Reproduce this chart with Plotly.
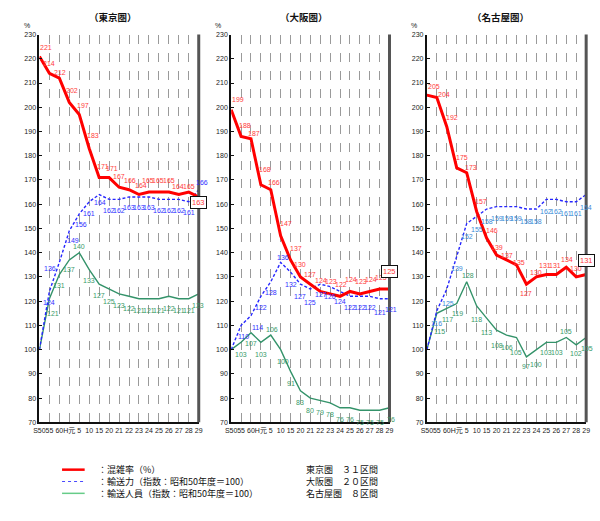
import plotly.graph_objects as go

# ---------------- data ----------------
categories = ["S50", "55", "60", "H元", "5", "10", "15", "20", "21", "22",
              "23", "24", "25", "26", "27", "28", "29"]
tick_labels = ["S50", "55", "60", "H元", "5", "10", "15", "20", "21", "22",
               "23", "24", "25", "26", "27", "28", "29"]

regions = ["東京圏", "大阪圏", "名古屋圏"]
region_sections = ["東京圏　３１区間", "大阪圏　２０区間", "名古屋圏　８区間"]

tokyo_congestion = [221, 214, 212, 202, 197, 183, 171, 171, 167, 166, 164, 165, 165, 165, 164, 165, 163]
tokyo_capacity = [100, 124, 136, 149, 156, 161, 164, 162, 162, 163, 163, 163, 162, 162, 162, 161, 166]
tokyo_passengers = [100, 121, 131, 137, 140, 133, 127, 125, 123, 122, 121, 121, 121, 122, 121, 121, 123]

osaka_congestion = [199, 188, 187, 168, 166, 147, 137, 130, 127, 124, 123, 122, 124, 123, 124, 125, 125]
osaka_capacity = [100, 110, 114, 122, 128, 136, 132, 127, 125, 127, 126, 124, 122, 122, 122, 121, 121]
osaka_passengers = [100, 103, 107, 103, 106, 100, 91, 83, 80, 79, 78, 76, 76, 75, 75, 75, 76]

nagoya_congestion = [205, 204, 192, 175, 173, 157, 146, 139, 137, 135, 127, 130, 131, 131, 134, 130, 131]
nagoya_capacity = [100, 116, 125, 139, 152, 155, 158, 159, 159, 159, 158, 158, 162, 162, 161, 161, 164]
nagoya_passengers = [100, 115, 117, 119, 128, 118, 113, 108, 106, 105, 97, 100, 103, 103, 105, 102, 105]

series_names = ["混雑率（%）", "輸送力（指数：昭和50年度＝100）", "輸送人員（指数：昭和50年度＝100）"]

# ---------------- styles ----------------
FONT = "Noto Sans CJK JP"
NUMFONT = "Liberation Sans, Noto Sans CJK JP"
RED, BLUE, GREEN = "#ff0000", "#2626ff", "#34936a"
RED_T, GREEN_T = "#ff3b3b", "#3a9a6a"
BLUE_T = ["#3030ff", "#3030ff", "#3a8ad8"]

W, H = 600, 521
x_px = [(34, 196), (229, 390), (428, 590)]
y_top_px, y_bot_px = 31, 424
ydom = [(H - y_bot_px) / H, (H - y_top_px) / H]
n = len(categories)

# label offsets (px) relative to each point: (dx, dy up); None = no label; "box" = boxed label
label_offsets = {
    "tokyo": (
        [(7, 9), (0, 10), (1, 6), (3, 12), (4, 9), (4, 13), (4, 11), (3, 9), (0, 11), (1, 9), (2, 9),
         (-1, 12), (-1, 12), (0, 12), (-1, 8), (0, 6), "box"],
        [None, (0, -11), (-9, -6), (4, -10), (2, -11), (0, -12), (1, -8), (0, -11), (0, -11), (0, -11),
         (0, -11), (0, -11), (0, -11), (0, -11), (0, -11), (0, -11), (3, 7)],
        [None, (4, -15), (0, -11), (0, -10), (0, 6), (0, -11), (0, -11), (0, -12), (0, -12), (0, -12),
         (0, -12), (0, -12), (0, -12), (0, -12), (0, -12), (0, -12), (-1, -12)],
    ),
    "osaka": (
        [(7, 10), (4, 11), (3, 5), (4, 15), (3, 7), (5, 12), (5, 11), (0, 12), (0, 10), (1, 11), (1, 12),
         (1, 12), (1, 12), (1, 12), (1, 12), (1, 12), "box"],
        [None, (2, -11), (7, -12), (0, -11), (0, -11), (2, 5), (0, -12), (0, -12), (0, -13), (1, -10),
         (0, -10), (0, -10), (0, -11), (0, -11), (0, -11), (0, -14), (1, -11)],
        [None, (0, -12), (0, -11), (0, -12), (1, 6), (2, -12), (0, -12), (0, -12), (0, -12), (0, -12),
         (0, -12), (0, -12), (0, -12), (0, -12), (0, -12), (0, -12), (1, -12)],
    ),
    "nagoya": (
        [(7, 9), (7, 3), (5, 9), (5, 10), (4, 5), (4, 10), (5, 8), (0, 8), (0, 4), (3, 2), (0, -9),
         (0, 4), (-1, 9), (-1, 9), (1, 8), (0, 8), "box"],
        [None, (0, -13), (1, -14), (0, -13), (0, -13), (0, -13), (0, -12), (0, -12), (0, -12), (0, -12),
         (0, -12), (0, -12), (0, -12), (0, -12), (0, -12), (0, -12), (0, -13)],
        [None, (3, -18), (1, -11), (1, -10), (1, 6), (0, -14), (0, -14), (0, -15), (0, -12), (0, -15),
         (0, -10), (0, -15), (0, -10), (1, -10), (0, 6), (0, -9), (1, -11)],
    ),
}
box_shift = [(0, -6), (0, 18), (0, 14)]

data = [
    ("tokyo", tokyo_congestion, tokyo_capacity, tokyo_passengers),
    ("osaka", osaka_congestion, osaka_capacity, osaka_passengers),
    ("nagoya", nagoya_congestion, nagoya_capacity, nagoya_passengers),
]

LBL = 7
TICK = 7

fig = go.Figure()
layout = {}
annotations = []
shapes = []

for i, (key, cong, cap, pas) in enumerate(data):
    ax = "" if i == 0 else str(i + 1)
    xa, ya = "x" + ax, "y" + ax
    fig.add_trace(go.Scatter(x=categories, y=pas, mode="lines",
                             line=dict(color=GREEN, width=1.4), xaxis=xa, yaxis=ya,
                             showlegend=False, name=series_names[2]))
    fig.add_trace(go.Scatter(x=categories, y=cap, mode="lines",
                             line=dict(color=BLUE, width=1.4, dash="3px,2px"), xaxis=xa, yaxis=ya,
                             showlegend=False, name=series_names[1]))
    fig.add_trace(go.Scatter(x=categories, y=cong, mode="lines",
                             line=dict(color=RED, width=3), xaxis=xa, yaxis=ya,
                             showlegend=False, name=series_names[0]))

    offs = label_offsets[key]
    colors = [RED_T, BLUE_T[i], GREEN_T]
    for s, vals in enumerate([cong, cap, pas]):
        for j, v in enumerate(vals):
            o = offs[s][j]
            if o is None:
                continue
            # x given as the category index on the category axis
            if o == "box":
                annotations.append(dict(text=str(v), x=j, y=v, xref=xa, yref=ya,
                                        showarrow=False, xshift=box_shift[i][0], yshift=box_shift[i][1],
                                        font=dict(size=LBL + 0.5, color=RED_T, family=NUMFONT), bgcolor="white",
                                        bordercolor="#111", borderwidth=1, borderpad=1))
                continue
            annotations.append(dict(text=str(v), x=j, y=v, xref=xa, yref=ya,
                                    showarrow=False, xshift=o[0], yshift=o[1],
                                    xanchor="center", yanchor="middle",
                                    font=dict(size=LBL, color=colors[s], family=NUMFONT)))

    x0, x1 = x_px[i]
    layout["xaxis" + ax] = dict(
        domain=[x0 / W, x1 / W], anchor=ya, type="category",
        categoryorder="array", categoryarray=categories, range=[0, n - 1],
        tickmode="array", tickvals=categories, ticktext=tick_labels,
        tickfont=dict(size=TICK, color="#222", family=NUMFONT), tickangle=0,
        showgrid=True, gridcolor="#9a9a9a", gridwidth=1, griddash="dash",
        showline=True, linecolor="#111", linewidth=2, ticks="", zeroline=False,
        fixedrange=True,
    )
    layout["yaxis" + ax] = dict(
        domain=ydom, anchor=xa, range=[70, 230], dtick=10, tick0=70,
        tickfont=dict(size=TICK, color="#222", family=NUMFONT),
        showgrid=False, showline=True, linecolor="#111", linewidth=2,
        ticks="inside", ticklen=3, tickcolor="#111", zeroline=False, fixedrange=True,
    )
    shapes.append(dict(type="line", xref=xa + " domain", yref=ya + " domain",
                       x0=1, x1=1, y0=0, y1=1, line=dict(color="#555", width=3)))
    annotations.append(dict(text="<b>（" + regions[i] + "）</b>", xref="paper", yref="paper",
                            x=((x0 + x1) / 2 - 6) / W, y=1 - 13 / H, showarrow=False,
                            font=dict(size=9.5, color="#111", family=FONT), xanchor="center", yanchor="middle"))
    annotations.append(dict(text="%", xref="paper", yref="paper", x=(x0 - 13) / W, y=1 - 22 / H,
                            xanchor="center", yanchor="middle",
                            showarrow=False, font=dict(size=7, color="#222", family=NUMFONT)))

leg_y = [472, 484, 496]
leg_colors = ["#ff0000", "#4a4aff", "#66cc88"]
leg_dash = ["solid", "dot", "solid"]
leg_w = [2.5, 1.2, 1.5]
for k in range(3):
    yp = 1 - leg_y[k] / H
    shapes.append(dict(type="line", xref="paper", yref="paper", x0=57 / W, x1=80 / W, y0=yp, y1=yp,
                       line=dict(color=leg_colors[k], width=leg_w[k], dash=leg_dash[k])))
    annotations.append(dict(text="：" + series_names[k], xref="paper", yref="paper", x=92 / W, y=yp,
                            xanchor="left", yanchor="middle", showarrow=False,
                            font=dict(size=9, color="#111", family=FONT)))
    annotations.append(dict(text=region_sections[k], xref="paper", yref="paper", x=303 / W, y=yp,
                            xanchor="left", yanchor="middle", showarrow=False,
                            font=dict(size=9, color="#111", family=FONT)))

fig.update_layout(
    width=W, height=H, margin=dict(l=0, r=0, t=0, b=0),
    paper_bgcolor="white", plot_bgcolor="white",
    annotations=annotations, shapes=shapes, showlegend=False,
    font=dict(family=FONT),
    **layout,
)

fig.write_html("out.html", config={"displayModeBar": False},
               post_script="document.body.style.margin='0';document.body.style.padding='0';")
